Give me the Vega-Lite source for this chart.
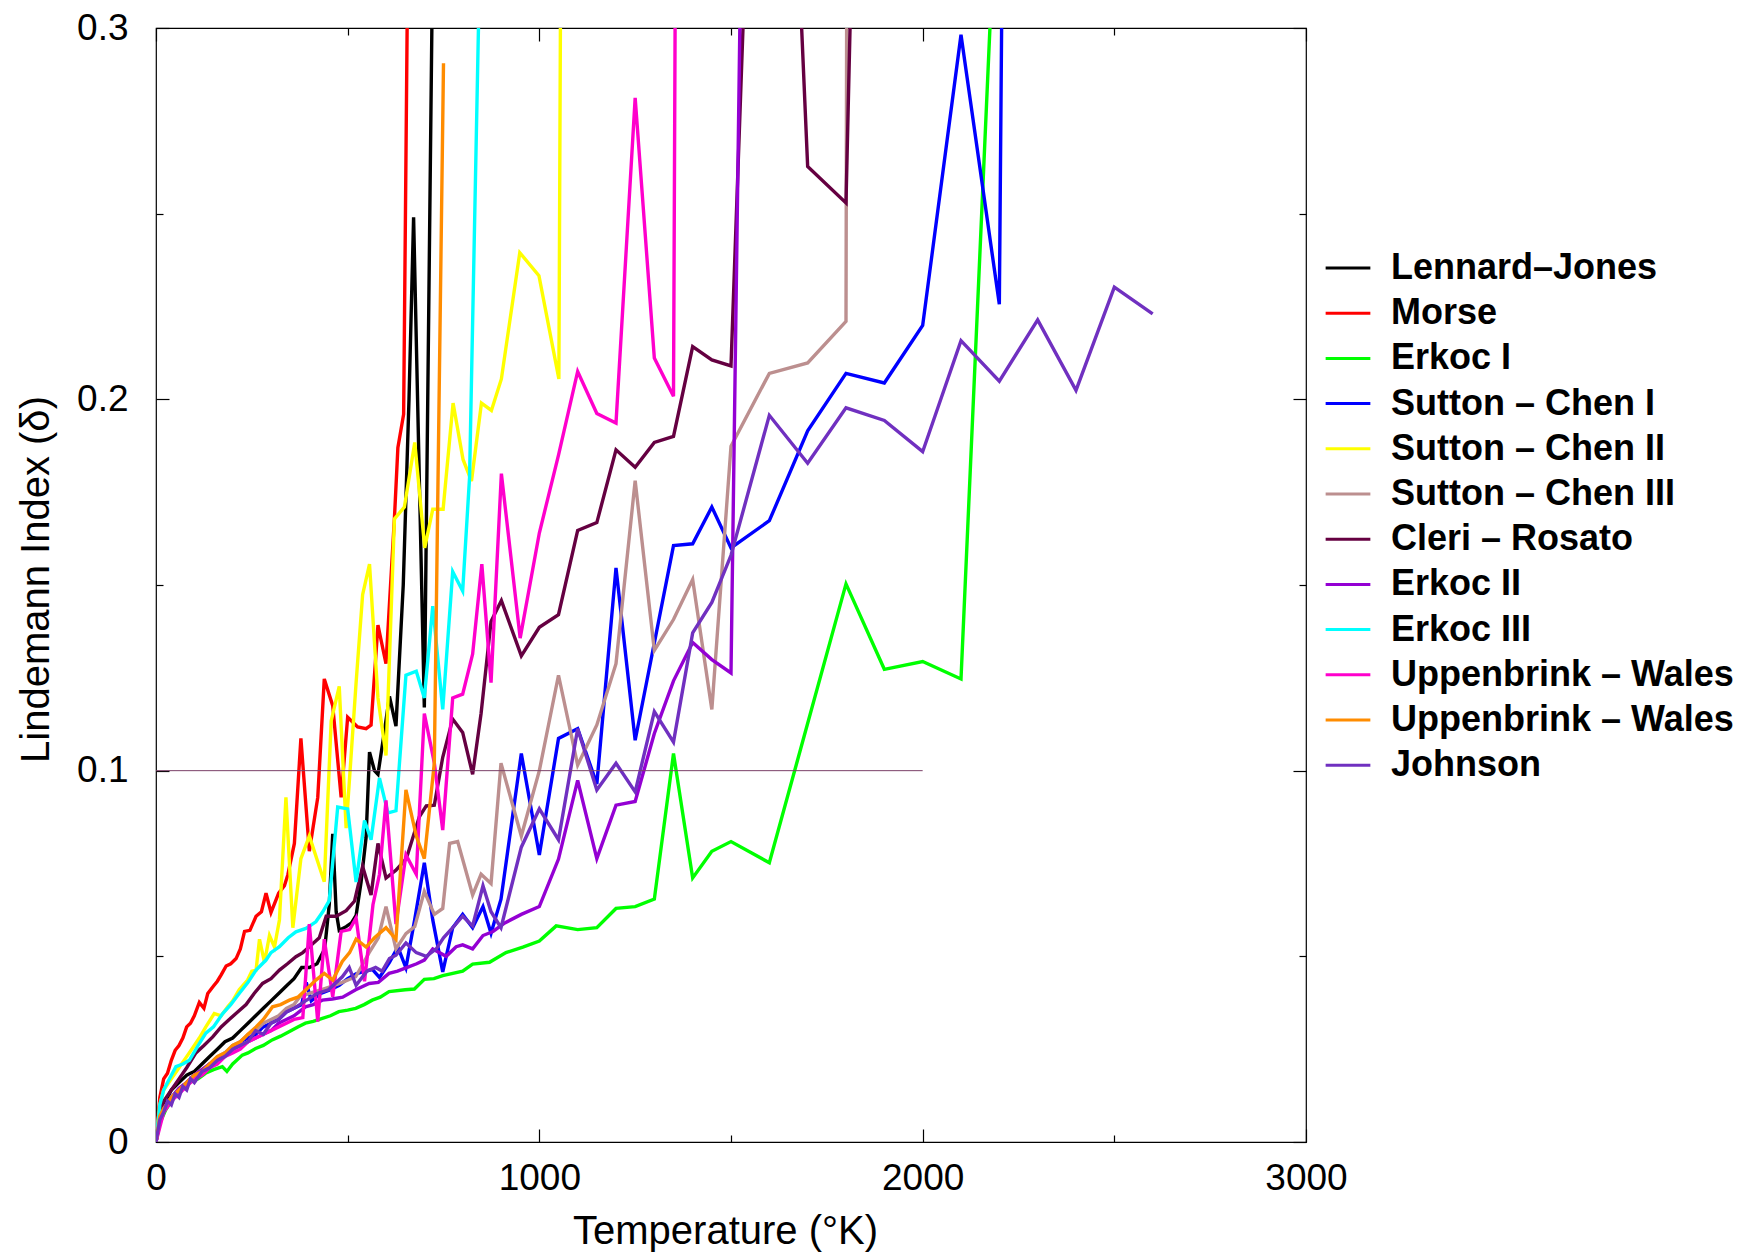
{
"$schema": "https://vega.github.io/schema/vega-lite/v6.json",
"width": 1150, "height": 1114,
"autosize": {"type": "none"},
"padding": {"left": 156, "top": 28, "right": 434, "bottom": 110},
"background": "white",
"config": {
  "view": {"stroke": "#000", "strokeWidth": 1.2},
  "font": "Liberation Sans",
  "axis": {"grid": false, "domain": false, "tickColor": "#000", "tickWidth": 1.2, "labelColor": "#000", "titleColor": "#000", "labelFont": "Liberation Sans", "titleFont": "Liberation Sans", "titleFontWeight": "normal", "labelFlush": false}
},
"datasets": {
"curves": [
{"s":"Lennard–Jones","T":0,"L":0},{"s":"Lennard–Jones","T":10,"L":0.007},{"s":"Lennard–Jones","T":20,"L":0.010},{"s":"Lennard–Jones","T":30,"L":0.012},{"s":"Lennard–Jones","T":40,"L":0.014},{"s":"Lennard–Jones","T":50,"L":0.015},{"s":"Lennard–Jones","T":60,"L":0.016},{"s":"Lennard–Jones","T":70,"L":0.017},{"s":"Lennard–Jones","T":80,"L":0.018},{"s":"Lennard–Jones","T":90,"L":0.0185},{"s":"Lennard–Jones","T":100,"L":0.019},{"s":"Lennard–Jones","T":120,"L":0.021},{"s":"Lennard–Jones","T":140,"L":0.023},{"s":"Lennard–Jones","T":160,"L":0.025},{"s":"Lennard–Jones","T":180,"L":0.027},{"s":"Lennard–Jones","T":200,"L":0.028},{"s":"Lennard–Jones","T":220,"L":0.030},{"s":"Lennard–Jones","T":240,"L":0.032},{"s":"Lennard–Jones","T":260,"L":0.034},{"s":"Lennard–Jones","T":280,"L":0.036},{"s":"Lennard–Jones","T":300,"L":0.038},{"s":"Lennard–Jones","T":320,"L":0.040},{"s":"Lennard–Jones","T":340,"L":0.042},{"s":"Lennard–Jones","T":360,"L":0.044},{"s":"Lennard–Jones","T":380,"L":0.047},{"s":"Lennard–Jones","T":400,"L":0.047},{"s":"Lennard–Jones","T":420,"L":0.048},{"s":"Lennard–Jones","T":440,"L":0.052},{"s":"Lennard–Jones","T":452,"L":0.064},{"s":"Lennard–Jones","T":461,"L":0.083},{"s":"Lennard–Jones","T":470,"L":0.062},{"s":"Lennard–Jones","T":478,"L":0.057},{"s":"Lennard–Jones","T":496,"L":0.058},{"s":"Lennard–Jones","T":510,"L":0.059},{"s":"Lennard–Jones","T":522,"L":0.061},{"s":"Lennard–Jones","T":535,"L":0.07},{"s":"Lennard–Jones","T":548,"L":0.082},{"s":"Lennard–Jones","T":557,"L":0.105},{"s":"Lennard–Jones","T":570,"L":0.1},{"s":"Lennard–Jones","T":579,"L":0.099},{"s":"Lennard–Jones","T":595,"L":0.11},{"s":"Lennard–Jones","T":609,"L":0.12},{"s":"Lennard–Jones","T":626,"L":0.112},{"s":"Lennard–Jones","T":645,"L":0.15},{"s":"Lennard–Jones","T":660,"L":0.2},{"s":"Lennard–Jones","T":672,"L":0.249},{"s":"Lennard–Jones","T":700,"L":0.117},{"s":"Lennard–Jones","T":725,"L":0.35},
{"s":"Morse","T":0,"L":0},{"s":"Morse","T":10,"L":0.012},{"s":"Morse","T":20,"L":0.017},{"s":"Morse","T":30,"L":0.0185},{"s":"Morse","T":40,"L":0.022},{"s":"Morse","T":50,"L":0.0247},{"s":"Morse","T":60,"L":0.026},{"s":"Morse","T":70,"L":0.028},{"s":"Morse","T":80,"L":0.031},{"s":"Morse","T":90,"L":0.032},{"s":"Morse","T":100,"L":0.034},{"s":"Morse","T":113,"L":0.0376},{"s":"Morse","T":125,"L":0.036},{"s":"Morse","T":135,"L":0.04},{"s":"Morse","T":150,"L":0.042},{"s":"Morse","T":160,"L":0.0433},{"s":"Morse","T":170,"L":0.045},{"s":"Morse","T":183,"L":0.0474},{"s":"Morse","T":195,"L":0.048},{"s":"Morse","T":209,"L":0.0494},{"s":"Morse","T":220,"L":0.052},{"s":"Morse","T":231,"L":0.0567},{"s":"Morse","T":245,"L":0.057},{"s":"Morse","T":261,"L":0.0608},{"s":"Morse","T":275,"L":0.062},{"s":"Morse","T":287,"L":0.067},{"s":"Morse","T":300,"L":0.0618},{"s":"Morse","T":320,"L":0.067},{"s":"Morse","T":335,"L":0.069},{"s":"Morse","T":344,"L":0.072},{"s":"Morse","T":361,"L":0.0804},{"s":"Morse","T":378,"L":0.1087},{"s":"Morse","T":400,"L":0.0783},{"s":"Morse","T":422,"L":0.0928},{"s":"Morse","T":439,"L":0.1247},{"s":"Morse","T":461,"L":0.1175},{"s":"Morse","T":483,"L":0.0928},{"s":"Morse","T":500,"L":0.1144},{"s":"Morse","T":526,"L":0.1118},{"s":"Morse","T":548,"L":0.1113},{"s":"Morse","T":561,"L":0.1123},{"s":"Morse","T":579,"L":0.1392},{"s":"Morse","T":600,"L":0.1288},{"s":"Morse","T":622,"L":0.168},{"s":"Morse","T":631,"L":0.187},{"s":"Morse","T":646,"L":0.196},{"s":"Morse","T":670,"L":0.47},
{"s":"Erkoc I","T":0,"L":0},{"s":"Erkoc I","T":10,"L":0.005},{"s":"Erkoc I","T":25,"L":0.0086},{"s":"Erkoc I","T":40,"L":0.011},{"s":"Erkoc I","T":51,"L":0.013},{"s":"Erkoc I","T":70,"L":0.0145},{"s":"Erkoc I","T":86,"L":0.016},{"s":"Erkoc I","T":110,"L":0.017},{"s":"Erkoc I","T":129,"L":0.0185},{"s":"Erkoc I","T":150,"L":0.0195},{"s":"Erkoc I","T":173,"L":0.0203},{"s":"Erkoc I","T":185,"L":0.019},{"s":"Erkoc I","T":200,"L":0.021},{"s":"Erkoc I","T":225,"L":0.0234},{"s":"Erkoc I","T":240,"L":0.024},{"s":"Erkoc I","T":260,"L":0.0252},{"s":"Erkoc I","T":280,"L":0.026},{"s":"Erkoc I","T":303,"L":0.0275},{"s":"Erkoc I","T":325,"L":0.0285},{"s":"Erkoc I","T":347,"L":0.0297},{"s":"Erkoc I","T":370,"L":0.031},{"s":"Erkoc I","T":390,"L":0.032},{"s":"Erkoc I","T":410,"L":0.0325},{"s":"Erkoc I","T":434,"L":0.0333},{"s":"Erkoc I","T":455,"L":0.034},{"s":"Erkoc I","T":477,"L":0.0351},{"s":"Erkoc I","T":500,"L":0.0355},{"s":"Erkoc I","T":521,"L":0.036},{"s":"Erkoc I","T":543,"L":0.037},{"s":"Erkoc I","T":564,"L":0.0382},{"s":"Erkoc I","T":585,"L":0.039},{"s":"Erkoc I","T":608,"L":0.0405},{"s":"Erkoc I","T":650,"L":0.041},{"s":"Erkoc I","T":674,"L":0.0412},{"s":"Erkoc I","T":700,"L":0.0438},{"s":"Erkoc I","T":725,"L":0.044},{"s":"Erkoc I","T":748,"L":0.0448},{"s":"Erkoc I","T":800,"L":0.046},{"s":"Erkoc I","T":826,"L":0.0479},{"s":"Erkoc I","T":870,"L":0.0484},{"s":"Erkoc I","T":913,"L":0.051},{"s":"Erkoc I","T":957,"L":0.0525},{"s":"Erkoc I","T":1000,"L":0.0541},{"s":"Erkoc I","T":1044,"L":0.0582},{"s":"Erkoc I","T":1100,"L":0.0572},{"s":"Erkoc I","T":1150,"L":0.0577},{"s":"Erkoc I","T":1200,"L":0.0629},{"s":"Erkoc I","T":1250,"L":0.0634},{"s":"Erkoc I","T":1300,"L":0.0654},{"s":"Erkoc I","T":1350,"L":0.1046},{"s":"Erkoc I","T":1400,"L":0.0711},{"s":"Erkoc I","T":1450,"L":0.0783},{"s":"Erkoc I","T":1500,"L":0.0809},{"s":"Erkoc I","T":1600,"L":0.0752},{"s":"Erkoc I","T":1800,"L":0.1503},{"s":"Erkoc I","T":1900,"L":0.1273},{"s":"Erkoc I","T":2000,"L":0.1294},{"s":"Erkoc I","T":2100,"L":0.1247},{"s":"Erkoc I","T":2200,"L":0.357},
{"s":"Sutton – Chen I","T":0,"L":0},{"s":"Sutton – Chen I","T":10,"L":0.006},{"s":"Sutton – Chen I","T":20,"L":0.009},{"s":"Sutton – Chen I","T":40,"L":0.012},{"s":"Sutton – Chen I","T":60,"L":0.014},{"s":"Sutton – Chen I","T":80,"L":0.016},{"s":"Sutton – Chen I","T":100,"L":0.018},{"s":"Sutton – Chen I","T":120,"L":0.019},{"s":"Sutton – Chen I","T":140,"L":0.021},{"s":"Sutton – Chen I","T":160,"L":0.022},{"s":"Sutton – Chen I","T":180,"L":0.024},{"s":"Sutton – Chen I","T":200,"L":0.025},{"s":"Sutton – Chen I","T":220,"L":0.027},{"s":"Sutton – Chen I","T":240,"L":0.028},{"s":"Sutton – Chen I","T":260,"L":0.029},{"s":"Sutton – Chen I","T":280,"L":0.031},{"s":"Sutton – Chen I","T":300,"L":0.032},{"s":"Sutton – Chen I","T":320,"L":0.033},{"s":"Sutton – Chen I","T":340,"L":0.035},{"s":"Sutton – Chen I","T":360,"L":0.036},{"s":"Sutton – Chen I","T":380,"L":0.037},{"s":"Sutton – Chen I","T":392,"L":0.043},{"s":"Sutton – Chen I","T":405,"L":0.038},{"s":"Sutton – Chen I","T":430,"L":0.04},{"s":"Sutton – Chen I","T":455,"L":0.041},{"s":"Sutton – Chen I","T":478,"L":0.0422},{"s":"Sutton – Chen I","T":500,"L":0.044},{"s":"Sutton – Chen I","T":522,"L":0.0453},{"s":"Sutton – Chen I","T":545,"L":0.046},{"s":"Sutton – Chen I","T":565,"L":0.0464},{"s":"Sutton – Chen I","T":583,"L":0.0443},{"s":"Sutton – Chen I","T":609,"L":0.0484},{"s":"Sutton – Chen I","T":631,"L":0.0525},{"s":"Sutton – Chen I","T":652,"L":0.0469},{"s":"Sutton – Chen I","T":675,"L":0.06},{"s":"Sutton – Chen I","T":700,"L":0.0752},{"s":"Sutton – Chen I","T":722,"L":0.0598},{"s":"Sutton – Chen I","T":748,"L":0.0458},{"s":"Sutton – Chen I","T":774,"L":0.0577},{"s":"Sutton – Chen I","T":800,"L":0.0613},{"s":"Sutton – Chen I","T":826,"L":0.0577},{"s":"Sutton – Chen I","T":853,"L":0.0634},{"s":"Sutton – Chen I","T":874,"L":0.0562},{"s":"Sutton – Chen I","T":900,"L":0.0654},{"s":"Sutton – Chen I","T":953,"L":0.1046},{"s":"Sutton – Chen I","T":1000,"L":0.0773},{"s":"Sutton – Chen I","T":1050,"L":0.1087},{"s":"Sutton – Chen I","T":1100,"L":0.1113},{"s":"Sutton – Chen I","T":1150,"L":0.0964},{"s":"Sutton – Chen I","T":1200,"L":0.1546},{"s":"Sutton – Chen I","T":1250,"L":0.1082},{"s":"Sutton – Chen I","T":1350,"L":0.1606},{"s":"Sutton – Chen I","T":1400,"L":0.1611},{"s":"Sutton – Chen I","T":1450,"L":0.171},{"s":"Sutton – Chen I","T":1500,"L":0.16},{"s":"Sutton – Chen I","T":1600,"L":0.1673},{"s":"Sutton – Chen I","T":1700,"L":0.1915},{"s":"Sutton – Chen I","T":1800,"L":0.207},{"s":"Sutton – Chen I","T":1900,"L":0.2044},{"s":"Sutton – Chen I","T":2000,"L":0.2199},{"s":"Sutton – Chen I","T":2100,"L":0.2982},{"s":"Sutton – Chen I","T":2200,"L":0.2256},{"s":"Sutton – Chen I","T":2300,"L":1.48},
{"s":"Sutton – Chen II","T":0,"L":0},{"s":"Sutton – Chen II","T":10,"L":0.01},{"s":"Sutton – Chen II","T":20,"L":0.014},{"s":"Sutton – Chen II","T":40,"L":0.017},{"s":"Sutton – Chen II","T":60,"L":0.02},{"s":"Sutton – Chen II","T":80,"L":0.023},{"s":"Sutton – Chen II","T":100,"L":0.026},{"s":"Sutton – Chen II","T":113,"L":0.028},{"s":"Sutton – Chen II","T":130,"L":0.031},{"s":"Sutton – Chen II","T":152,"L":0.0346},{"s":"Sutton – Chen II","T":170,"L":0.034},{"s":"Sutton – Chen II","T":187,"L":0.0364},{"s":"Sutton – Chen II","T":200,"L":0.038},{"s":"Sutton – Chen II","T":217,"L":0.041},{"s":"Sutton – Chen II","T":239,"L":0.0436},{"s":"Sutton – Chen II","T":250,"L":0.046},{"s":"Sutton – Chen II","T":261,"L":0.0463},{"s":"Sutton – Chen II","T":270,"L":0.0546},{"s":"Sutton – Chen II","T":283,"L":0.0484},{"s":"Sutton – Chen II","T":296,"L":0.0556},{"s":"Sutton – Chen II","T":309,"L":0.0525},{"s":"Sutton – Chen II","T":322,"L":0.0598},{"s":"Sutton – Chen II","T":339,"L":0.0928},{"s":"Sutton – Chen II","T":357,"L":0.0577},{"s":"Sutton – Chen II","T":378,"L":0.0763},{"s":"Sutton – Chen II","T":400,"L":0.0824},{"s":"Sutton – Chen II","T":439,"L":0.0701},{"s":"Sutton – Chen II","T":457,"L":0.1134},{"s":"Sutton – Chen II","T":478,"L":0.1227},{"s":"Sutton – Chen II","T":496,"L":0.0845},{"s":"Sutton – Chen II","T":522,"L":0.1237},{"s":"Sutton – Chen II","T":539,"L":0.1474},{"s":"Sutton – Chen II","T":557,"L":0.1556},{"s":"Sutton – Chen II","T":579,"L":0.1196},{"s":"Sutton – Chen II","T":600,"L":0.1041},{"s":"Sutton – Chen II","T":622,"L":0.1678},{"s":"Sutton – Chen II","T":648,"L":0.171},{"s":"Sutton – Chen II","T":675,"L":0.1884},{"s":"Sutton – Chen II","T":701,"L":0.16},{"s":"Sutton – Chen II","T":722,"L":0.1704},{"s":"Sutton – Chen II","T":749,"L":0.1704},{"s":"Sutton – Chen II","T":775,"L":0.199},{"s":"Sutton – Chen II","T":801,"L":0.1838},{"s":"Sutton – Chen II","T":823,"L":0.178},{"s":"Sutton – Chen II","T":849,"L":0.199},{"s":"Sutton – Chen II","T":875,"L":0.197},{"s":"Sutton – Chen II","T":901,"L":0.2055},{"s":"Sutton – Chen II","T":949,"L":0.2395},{"s":"Sutton – Chen II","T":999,"L":0.2333},{"s":"Sutton – Chen II","T":1051,"L":0.2055},{"s":"Sutton – Chen II","T":1060,"L":0.42},
{"s":"Sutton – Chen III","T":0,"L":0},{"s":"Sutton – Chen III","T":10,"L":0.006},{"s":"Sutton – Chen III","T":20,"L":0.009},{"s":"Sutton – Chen III","T":40,"L":0.012},{"s":"Sutton – Chen III","T":60,"L":0.014},{"s":"Sutton – Chen III","T":80,"L":0.016},{"s":"Sutton – Chen III","T":100,"L":0.018},{"s":"Sutton – Chen III","T":120,"L":0.0195},{"s":"Sutton – Chen III","T":140,"L":0.021},{"s":"Sutton – Chen III","T":160,"L":0.023},{"s":"Sutton – Chen III","T":180,"L":0.024},{"s":"Sutton – Chen III","T":200,"L":0.026},{"s":"Sutton – Chen III","T":220,"L":0.027},{"s":"Sutton – Chen III","T":240,"L":0.029},{"s":"Sutton – Chen III","T":260,"L":0.030},{"s":"Sutton – Chen III","T":280,"L":0.032},{"s":"Sutton – Chen III","T":300,"L":0.033},{"s":"Sutton – Chen III","T":320,"L":0.034},{"s":"Sutton – Chen III","T":340,"L":0.036},{"s":"Sutton – Chen III","T":360,"L":0.037},{"s":"Sutton – Chen III","T":374,"L":0.039},{"s":"Sutton – Chen III","T":400,"L":0.04},{"s":"Sutton – Chen III","T":430,"L":0.041},{"s":"Sutton – Chen III","T":460,"L":0.042},{"s":"Sutton – Chen III","T":486,"L":0.043},{"s":"Sutton – Chen III","T":521,"L":0.0445},{"s":"Sutton – Chen III","T":540,"L":0.048},{"s":"Sutton – Chen III","T":556,"L":0.051},{"s":"Sutton – Chen III","T":580,"L":0.055},{"s":"Sutton – Chen III","T":600,"L":0.0634},{"s":"Sutton – Chen III","T":626,"L":0.052},{"s":"Sutton – Chen III","T":652,"L":0.0561},{"s":"Sutton – Chen III","T":675,"L":0.058},{"s":"Sutton – Chen III","T":700,"L":0.0675},{"s":"Sutton – Chen III","T":726,"L":0.0613},{"s":"Sutton – Chen III","T":748,"L":0.0629},{"s":"Sutton – Chen III","T":766,"L":0.0804},{"s":"Sutton – Chen III","T":787,"L":0.0809},{"s":"Sutton – Chen III","T":826,"L":0.0665},{"s":"Sutton – Chen III","T":848,"L":0.0721},{"s":"Sutton – Chen III","T":874,"L":0.0696},{"s":"Sutton – Chen III","T":900,"L":0.102},{"s":"Sutton – Chen III","T":953,"L":0.0824},{"s":"Sutton – Chen III","T":1000,"L":0.1},{"s":"Sutton – Chen III","T":1050,"L":0.1257},{"s":"Sutton – Chen III","T":1100,"L":0.1015},{"s":"Sutton – Chen III","T":1150,"L":0.1123},{"s":"Sutton – Chen III","T":1200,"L":0.1288},{"s":"Sutton – Chen III","T":1250,"L":0.1781},{"s":"Sutton – Chen III","T":1300,"L":0.1324},{"s":"Sutton – Chen III","T":1350,"L":0.1407},{"s":"Sutton – Chen III","T":1400,"L":0.1515},{"s":"Sutton – Chen III","T":1450,"L":0.1165},{"s":"Sutton – Chen III","T":1500,"L":0.1874},{"s":"Sutton – Chen III","T":1600,"L":0.207},{"s":"Sutton – Chen III","T":1700,"L":0.2098},{"s":"Sutton – Chen III","T":1800,"L":0.221},{"s":"Sutton – Chen III","T":1900,"L":5.0},
{"s":"Cleri – Rosato","T":0,"L":0},{"s":"Cleri – Rosato","T":10,"L":0.008},{"s":"Cleri – Rosato","T":20,"L":0.011},{"s":"Cleri – Rosato","T":40,"L":0.014},{"s":"Cleri – Rosato","T":60,"L":0.017},{"s":"Cleri – Rosato","T":80,"L":0.02},{"s":"Cleri – Rosato","T":104,"L":0.024},{"s":"Cleri – Rosato","T":125,"L":0.026},{"s":"Cleri – Rosato","T":148,"L":0.0283},{"s":"Cleri – Rosato","T":170,"L":0.031},{"s":"Cleri – Rosato","T":191,"L":0.033},{"s":"Cleri – Rosato","T":213,"L":0.035},{"s":"Cleri – Rosato","T":235,"L":0.037},{"s":"Cleri – Rosato","T":256,"L":0.04},{"s":"Cleri – Rosato","T":278,"L":0.0427},{"s":"Cleri – Rosato","T":300,"L":0.044},{"s":"Cleri – Rosato","T":322,"L":0.0463},{"s":"Cleri – Rosato","T":343,"L":0.048},{"s":"Cleri – Rosato","T":365,"L":0.0499},{"s":"Cleri – Rosato","T":383,"L":0.051},{"s":"Cleri – Rosato","T":400,"L":0.0526},{"s":"Cleri – Rosato","T":426,"L":0.055},{"s":"Cleri – Rosato","T":444,"L":0.0608},{"s":"Cleri – Rosato","T":470,"L":0.0608},{"s":"Cleri – Rosato","T":496,"L":0.0623},{"s":"Cleri – Rosato","T":518,"L":0.0649},{"s":"Cleri – Rosato","T":539,"L":0.0742},{"s":"Cleri – Rosato","T":561,"L":0.0665},{"s":"Cleri – Rosato","T":579,"L":0.0804},{"s":"Cleri – Rosato","T":600,"L":0.0711},{"s":"Cleri – Rosato","T":626,"L":0.0732},{"s":"Cleri – Rosato","T":653,"L":0.0763},{"s":"Cleri – Rosato","T":687,"L":0.0876},{"s":"Cleri – Rosato","T":705,"L":0.0905},{"s":"Cleri – Rosato","T":726,"L":0.0907},{"s":"Cleri – Rosato","T":748,"L":0.1036},{"s":"Cleri – Rosato","T":774,"L":0.1139},{"s":"Cleri – Rosato","T":800,"L":0.1103},{"s":"Cleri – Rosato","T":826,"L":0.099},{"s":"Cleri – Rosato","T":848,"L":0.1154},{"s":"Cleri – Rosato","T":874,"L":0.1402},{"s":"Cleri – Rosato","T":901,"L":0.1458},{"s":"Cleri – Rosato","T":953,"L":0.1309},{"s":"Cleri – Rosato","T":1000,"L":0.1386},{"s":"Cleri – Rosato","T":1050,"L":0.142},{"s":"Cleri – Rosato","T":1100,"L":0.1647},{"s":"Cleri – Rosato","T":1150,"L":0.1668},{"s":"Cleri – Rosato","T":1200,"L":0.1864},{"s":"Cleri – Rosato","T":1250,"L":0.1817},{"s":"Cleri – Rosato","T":1300,"L":0.1884},{"s":"Cleri – Rosato","T":1350,"L":0.19},{"s":"Cleri – Rosato","T":1400,"L":0.2142},{"s":"Cleri – Rosato","T":1450,"L":0.2106},{"s":"Cleri – Rosato","T":1500,"L":0.209},{"s":"Cleri – Rosato","T":1600,"L":0.5},{"s":"Cleri – Rosato","T":1700,"L":0.2627},{"s":"Cleri – Rosato","T":1800,"L":0.2529},{"s":"Cleri – Rosato","T":1900,"L":0.7},
{"s":"Erkoc II","T":0,"L":0},{"s":"Erkoc II","T":10,"L":0.006},{"s":"Erkoc II","T":20,"L":0.009},{"s":"Erkoc II","T":40,"L":0.012},{"s":"Erkoc II","T":60,"L":0.0145},{"s":"Erkoc II","T":80,"L":0.016},{"s":"Erkoc II","T":100,"L":0.018},{"s":"Erkoc II","T":120,"L":0.0195},{"s":"Erkoc II","T":140,"L":0.021},{"s":"Erkoc II","T":160,"L":0.022},{"s":"Erkoc II","T":180,"L":0.0235},{"s":"Erkoc II","T":200,"L":0.025},{"s":"Erkoc II","T":220,"L":0.026},{"s":"Erkoc II","T":240,"L":0.027},{"s":"Erkoc II","T":260,"L":0.028},{"s":"Erkoc II","T":280,"L":0.029},{"s":"Erkoc II","T":300,"L":0.030},{"s":"Erkoc II","T":320,"L":0.032},{"s":"Erkoc II","T":340,"L":0.033},{"s":"Erkoc II","T":360,"L":0.034},{"s":"Erkoc II","T":390,"L":0.0364},{"s":"Erkoc II","T":410,"L":0.037},{"s":"Erkoc II","T":434,"L":0.0382},{"s":"Erkoc II","T":460,"L":0.0385},{"s":"Erkoc II","T":487,"L":0.039},{"s":"Erkoc II","T":521,"L":0.041},{"s":"Erkoc II","T":556,"L":0.0427},{"s":"Erkoc II","T":580,"L":0.043},{"s":"Erkoc II","T":608,"L":0.0454},{"s":"Erkoc II","T":630,"L":0.046},{"s":"Erkoc II","T":652,"L":0.0469},{"s":"Erkoc II","T":680,"L":0.048},{"s":"Erkoc II","T":700,"L":0.049},{"s":"Erkoc II","T":722,"L":0.052},{"s":"Erkoc II","T":757,"L":0.05},{"s":"Erkoc II","T":783,"L":0.0526},{"s":"Erkoc II","T":800,"L":0.0531},{"s":"Erkoc II","T":826,"L":0.052},{"s":"Erkoc II","T":853,"L":0.0556},{"s":"Erkoc II","T":879,"L":0.0567},{"s":"Erkoc II","T":910,"L":0.059},{"s":"Erkoc II","T":953,"L":0.0613},{"s":"Erkoc II","T":1000,"L":0.0634},{"s":"Erkoc II","T":1050,"L":0.0762},{"s":"Erkoc II","T":1100,"L":0.0974},{"s":"Erkoc II","T":1150,"L":0.0763},{"s":"Erkoc II","T":1200,"L":0.0907},{"s":"Erkoc II","T":1250,"L":0.0917},{"s":"Erkoc II","T":1300,"L":0.11},{"s":"Erkoc II","T":1350,"L":0.1242},{"s":"Erkoc II","T":1400,"L":0.1345},{"s":"Erkoc II","T":1450,"L":0.1299},{"s":"Erkoc II","T":1500,"L":0.1263},{"s":"Erkoc II","T":1600,"L":0.88},
{"s":"Erkoc III","T":0,"L":0},{"s":"Erkoc III","T":10,"L":0.01},{"s":"Erkoc III","T":20,"L":0.014},{"s":"Erkoc III","T":30,"L":0.016},{"s":"Erkoc III","T":52,"L":0.0203},{"s":"Erkoc III","T":70,"L":0.021},{"s":"Erkoc III","T":87,"L":0.022},{"s":"Erkoc III","T":110,"L":0.026},{"s":"Erkoc III","T":130,"L":0.0293},{"s":"Erkoc III","T":150,"L":0.031},{"s":"Erkoc III","T":174,"L":0.0346},{"s":"Erkoc III","T":195,"L":0.037},{"s":"Erkoc III","T":217,"L":0.04},{"s":"Erkoc III","T":240,"L":0.043},{"s":"Erkoc III","T":261,"L":0.0463},{"s":"Erkoc III","T":287,"L":0.049},{"s":"Erkoc III","T":300,"L":0.051},{"s":"Erkoc III","T":322,"L":0.0526},{"s":"Erkoc III","T":345,"L":0.055},{"s":"Erkoc III","T":365,"L":0.0566},{"s":"Erkoc III","T":391,"L":0.0575},{"s":"Erkoc III","T":417,"L":0.0593},{"s":"Erkoc III","T":435,"L":0.062},{"s":"Erkoc III","T":452,"L":0.065},{"s":"Erkoc III","T":474,"L":0.0902},{"s":"Erkoc III","T":500,"L":0.0897},{"s":"Erkoc III","T":522,"L":0.07},{"s":"Erkoc III","T":544,"L":0.0866},{"s":"Erkoc III","T":561,"L":0.0814},{"s":"Erkoc III","T":583,"L":0.098},{"s":"Erkoc III","T":605,"L":0.0886},{"s":"Erkoc III","T":626,"L":0.0892},{"s":"Erkoc III","T":652,"L":0.1257},{"s":"Erkoc III","T":679,"L":0.1268},{"s":"Erkoc III","T":700,"L":0.1196},{"s":"Erkoc III","T":722,"L":0.1443},{"s":"Erkoc III","T":748,"L":0.1165},{"s":"Erkoc III","T":774,"L":0.1536},{"s":"Erkoc III","T":800,"L":0.1484},{"s":"Erkoc III","T":818,"L":0.179},{"s":"Erkoc III","T":845,"L":0.32},
{"s":"Uppenbrink – Wales","T":0,"L":0},{"s":"Uppenbrink – Wales","T":10,"L":0.004},{"s":"Uppenbrink – Wales","T":20,"L":0.008},{"s":"Uppenbrink – Wales","T":40,"L":0.011},{"s":"Uppenbrink – Wales","T":60,"L":0.013},{"s":"Uppenbrink – Wales","T":80,"L":0.015},{"s":"Uppenbrink – Wales","T":100,"L":0.017},{"s":"Uppenbrink – Wales","T":120,"L":0.018},{"s":"Uppenbrink – Wales","T":140,"L":0.02},{"s":"Uppenbrink – Wales","T":160,"L":0.021},{"s":"Uppenbrink – Wales","T":180,"L":0.023},{"s":"Uppenbrink – Wales","T":200,"L":0.024},{"s":"Uppenbrink – Wales","T":220,"L":0.025},{"s":"Uppenbrink – Wales","T":240,"L":0.027},{"s":"Uppenbrink – Wales","T":260,"L":0.028},{"s":"Uppenbrink – Wales","T":280,"L":0.029},{"s":"Uppenbrink – Wales","T":300,"L":0.03},{"s":"Uppenbrink – Wales","T":320,"L":0.031},{"s":"Uppenbrink – Wales","T":340,"L":0.032},{"s":"Uppenbrink – Wales","T":360,"L":0.033},{"s":"Uppenbrink – Wales","T":383,"L":0.0335},{"s":"Uppenbrink – Wales","T":400,"L":0.0587},{"s":"Uppenbrink – Wales","T":422,"L":0.0324},{"s":"Uppenbrink – Wales","T":439,"L":0.0546},{"s":"Uppenbrink – Wales","T":461,"L":0.0391},{"s":"Uppenbrink – Wales","T":483,"L":0.0567},{"s":"Uppenbrink – Wales","T":505,"L":0.0572},{"s":"Uppenbrink – Wales","T":522,"L":0.0603},{"s":"Uppenbrink – Wales","T":544,"L":0.0433},{"s":"Uppenbrink – Wales","T":566,"L":0.0639},{"s":"Uppenbrink – Wales","T":583,"L":0.0721},{"s":"Uppenbrink – Wales","T":600,"L":0.092},{"s":"Uppenbrink – Wales","T":626,"L":0.0587},{"s":"Uppenbrink – Wales","T":652,"L":0.0773},{"s":"Uppenbrink – Wales","T":679,"L":0.0721},{"s":"Uppenbrink – Wales","T":700,"L":0.1154},{"s":"Uppenbrink – Wales","T":726,"L":0.1021},{"s":"Uppenbrink – Wales","T":748,"L":0.084},{"s":"Uppenbrink – Wales","T":774,"L":0.1196},{"s":"Uppenbrink – Wales","T":800,"L":0.1206},{"s":"Uppenbrink – Wales","T":826,"L":0.1314},{"s":"Uppenbrink – Wales","T":850,"L":0.1556},{"s":"Uppenbrink – Wales","T":874,"L":0.1237},{"s":"Uppenbrink – Wales","T":901,"L":0.18},{"s":"Uppenbrink – Wales","T":950,"L":0.1357},{"s":"Uppenbrink – Wales","T":1000,"L":0.164},{"s":"Uppenbrink – Wales","T":1050,"L":0.185},{"s":"Uppenbrink – Wales","T":1100,"L":0.2075},{"s":"Uppenbrink – Wales","T":1150,"L":0.1962},{"s":"Uppenbrink – Wales","T":1200,"L":0.1936},{"s":"Uppenbrink – Wales","T":1250,"L":0.2812},{"s":"Uppenbrink – Wales","T":1300,"L":0.2111},{"s":"Uppenbrink – Wales","T":1350,"L":0.2008},{"s":"Uppenbrink – Wales","T":1400,"L":1.4},
{"s":"Uppenbrink – Wales (2)","T":0,"L":0},{"s":"Uppenbrink – Wales (2)","T":10,"L":0.007},{"s":"Uppenbrink – Wales (2)","T":20,"L":0.009},{"s":"Uppenbrink – Wales (2)","T":40,"L":0.012},{"s":"Uppenbrink – Wales (2)","T":60,"L":0.014},{"s":"Uppenbrink – Wales (2)","T":80,"L":0.016},{"s":"Uppenbrink – Wales (2)","T":100,"L":0.018},{"s":"Uppenbrink – Wales (2)","T":120,"L":0.019},{"s":"Uppenbrink – Wales (2)","T":140,"L":0.021},{"s":"Uppenbrink – Wales (2)","T":160,"L":0.023},{"s":"Uppenbrink – Wales (2)","T":180,"L":0.024},{"s":"Uppenbrink – Wales (2)","T":200,"L":0.026},{"s":"Uppenbrink – Wales (2)","T":220,"L":0.027},{"s":"Uppenbrink – Wales (2)","T":240,"L":0.029},{"s":"Uppenbrink – Wales (2)","T":261,"L":0.031},{"s":"Uppenbrink – Wales (2)","T":280,"L":0.033},{"s":"Uppenbrink – Wales (2)","T":304,"L":0.0364},{"s":"Uppenbrink – Wales (2)","T":325,"L":0.037},{"s":"Uppenbrink – Wales (2)","T":348,"L":0.0382},{"s":"Uppenbrink – Wales (2)","T":370,"L":0.039},{"s":"Uppenbrink – Wales (2)","T":391,"L":0.041},{"s":"Uppenbrink – Wales (2)","T":417,"L":0.0436},{"s":"Uppenbrink – Wales (2)","T":439,"L":0.0454},{"s":"Uppenbrink – Wales (2)","T":461,"L":0.0436},{"s":"Uppenbrink – Wales (2)","T":486,"L":0.0486},{"s":"Uppenbrink – Wales (2)","T":505,"L":0.051},{"s":"Uppenbrink – Wales (2)","T":522,"L":0.0546},{"s":"Uppenbrink – Wales (2)","T":548,"L":0.0525},{"s":"Uppenbrink – Wales (2)","T":570,"L":0.055},{"s":"Uppenbrink – Wales (2)","T":600,"L":0.0577},{"s":"Uppenbrink – Wales (2)","T":626,"L":0.0546},{"s":"Uppenbrink – Wales (2)","T":652,"L":0.0948},{"s":"Uppenbrink – Wales (2)","T":679,"L":0.0824},{"s":"Uppenbrink – Wales (2)","T":700,"L":0.0763},{"s":"Uppenbrink – Wales (2)","T":726,"L":0.102},{"s":"Uppenbrink – Wales (2)","T":750,"L":0.2905},
{"s":"Johnson","T":0,"L":0},{"s":"Johnson","T":10,"L":0.006},{"s":"Johnson","T":20,"L":0.008},{"s":"Johnson","T":30,"L":0.011},{"s":"Johnson","T":40,"L":0.01},{"s":"Johnson","T":50,"L":0.013},{"s":"Johnson","T":60,"L":0.012},{"s":"Johnson","T":70,"L":0.015},{"s":"Johnson","T":80,"L":0.014},{"s":"Johnson","T":90,"L":0.017},{"s":"Johnson","T":100,"L":0.016},{"s":"Johnson","T":120,"L":0.019},{"s":"Johnson","T":140,"L":0.02},{"s":"Johnson","T":160,"L":0.022},{"s":"Johnson","T":180,"L":0.023},{"s":"Johnson","T":200,"L":0.025},{"s":"Johnson","T":220,"L":0.026},{"s":"Johnson","T":240,"L":0.027},{"s":"Johnson","T":260,"L":0.03},{"s":"Johnson","T":280,"L":0.029},{"s":"Johnson","T":300,"L":0.032},{"s":"Johnson","T":320,"L":0.033},{"s":"Johnson","T":340,"L":0.035},{"s":"Johnson","T":360,"L":0.036},{"s":"Johnson","T":390,"L":0.038},{"s":"Johnson","T":420,"L":0.04},{"s":"Johnson","T":450,"L":0.041},{"s":"Johnson","T":486,"L":0.0445},{"s":"Johnson","T":504,"L":0.047},{"s":"Johnson","T":522,"L":0.0422},{"s":"Johnson","T":550,"L":0.046},{"s":"Johnson","T":573,"L":0.047},{"s":"Johnson","T":590,"L":0.046},{"s":"Johnson","T":609,"L":0.0494},{"s":"Johnson","T":626,"L":0.0503},{"s":"Johnson","T":652,"L":0.0536},{"s":"Johnson","T":679,"L":0.051},{"s":"Johnson","T":705,"L":0.05},{"s":"Johnson","T":731,"L":0.052},{"s":"Johnson","T":750,"L":0.055},{"s":"Johnson","T":774,"L":0.0577},{"s":"Johnson","T":800,"L":0.0608},{"s":"Johnson","T":826,"L":0.0582},{"s":"Johnson","T":853,"L":0.069},{"s":"Johnson","T":874,"L":0.062},{"s":"Johnson","T":900,"L":0.0577},{"s":"Johnson","T":953,"L":0.0794},{"s":"Johnson","T":1000,"L":0.0897},{"s":"Johnson","T":1050,"L":0.0814},{"s":"Johnson","T":1100,"L":0.1113},{"s":"Johnson","T":1150,"L":0.0948},{"s":"Johnson","T":1200,"L":0.102},{"s":"Johnson","T":1250,"L":0.0943},{"s":"Johnson","T":1300,"L":0.1159},{"s":"Johnson","T":1350,"L":0.1077},{"s":"Johnson","T":1400,"L":0.1371},{"s":"Johnson","T":1450,"L":0.1453},{"s":"Johnson","T":1500,"L":0.158},{"s":"Johnson","T":1600,"L":0.1957},{"s":"Johnson","T":1700,"L":0.1828},{"s":"Johnson","T":1800,"L":0.1977},{"s":"Johnson","T":1900,"L":0.1943},{"s":"Johnson","T":2000,"L":0.1859},{"s":"Johnson","T":2100,"L":0.2158},{"s":"Johnson","T":2200,"L":0.2049},{"s":"Johnson","T":2300,"L":0.2214},{"s":"Johnson","T":2400,"L":0.2024},{"s":"Johnson","T":2500,"L":0.2302},{"s":"Johnson","T":2600,"L":0.223}
],
"refline": [{"T": 0, "T2": 2000, "L": 0.1}]
},
"layer": [
{
  "data": {"name": "curves"},
  "mark": {"type": "line", "clip": true, "strokeWidth": 3.4},
  "encoding": {
    "x": {"field": "T", "type": "quantitative", "scale": {"domain": [0, 3000], "nice": false, "zero": false},
          "axis": {"orient": "bottom", "values": [0, 1000, 2000, 3000], "format": "d", "tickSize": -13, "labelPadding": 31, "labelFontSize": 37,
                   "title": "Temperature (°K)", "titleFontSize": 40, "titleX": 569, "titleY": 101, "titleAlign": "center", "titleBaseline": "alphabetic"}},
    "y": {"field": "L", "type": "quantitative", "scale": {"domain": [0, 0.3], "nice": false},
          "axis": {"orient": "left", "values": [0, 0.1, 0.2, 0.3], "format": "~g", "tickSize": -13, "labelPadding": 41, "labelFontSize": 37,
                   "title": "Lindemann Index (δ)", "titleFontSize": 40, "titleX": -108, "titleY": 551, "titleAngle": -90, "titleAlign": "center", "titleBaseline": "alphabetic"}},
    "color": {"field": "s", "type": "nominal",
      "scale": {"domain": ["Lennard–Jones", "Morse", "Erkoc I", "Sutton – Chen I", "Sutton – Chen II", "Sutton – Chen III", "Cleri – Rosato", "Erkoc II", "Erkoc III", "Uppenbrink – Wales", "Uppenbrink – Wales (2)", "Johnson"],
                "range": ["#000000", "#ff0000", "#00ff00", "#0000ff", "#ffff00", "#bc8f8f", "#650041", "#9400d3", "#00ffff", "#ff00cc", "#ff8c00", "#7030c0"]},
      "legend": {"title": null, "orient": "none", "legendX": 1168, "legendY": 216, "padding": 0, "symbolType": "stroke", "symbolSize": 2000, "symbolStrokeWidth": 3,
                 "labelFontSize": 36, "labelFontWeight": "bold", "labelFont": "Liberation Sans", "labelColor": "#000", "labelOffset": 19, "rowPadding": 3.2, "labelLimit": 500,
                 "labelExpr": "replace(datum.label, ' (2)', '')"}}
  }
},
{
  "data": {"name": "refline"},
  "mark": {"type": "rule", "color": "#7b4068", "strokeWidth": 1},
  "encoding": {
    "x": {"field": "T", "type": "quantitative", "axis": {"orient": "bottom", "values": [500, 1500, 2500], "tickSize": -7, "labels": false, "title": null}},
    "x2": {"field": "T2"},
    "y": {"field": "L", "type": "quantitative", "axis": {"orient": "left", "values": [0.05, 0.15, 0.25], "tickSize": -7, "labels": false, "title": null}}
  }
},
{
  "data": {"name": "refline"},
  "mark": {"type": "point", "opacity": 0},
  "encoding": {
    "x": {"field": "T", "type": "quantitative", "axis": {"orient": "top", "values": [0, 1000, 2000, 3000], "tickSize": -13, "labels": false, "title": null}},
    "y": {"field": "L", "type": "quantitative", "axis": {"orient": "right", "values": [0, 0.1, 0.2, 0.3], "tickSize": -13, "labels": false, "title": null}}
  }
},
{
  "data": {"name": "refline"},
  "mark": {"type": "point", "opacity": 0},
  "encoding": {
    "x": {"field": "T", "type": "quantitative", "axis": {"orient": "top", "values": [500, 1500, 2500], "tickSize": -7, "labels": false, "title": null}},
    "y": {"field": "L", "type": "quantitative", "axis": {"orient": "right", "values": [0.05, 0.15, 0.25], "tickSize": -7, "labels": false, "title": null}}
  }
}
],
"resolve": {"axis": {"x": "independent", "y": "independent"}}
}
